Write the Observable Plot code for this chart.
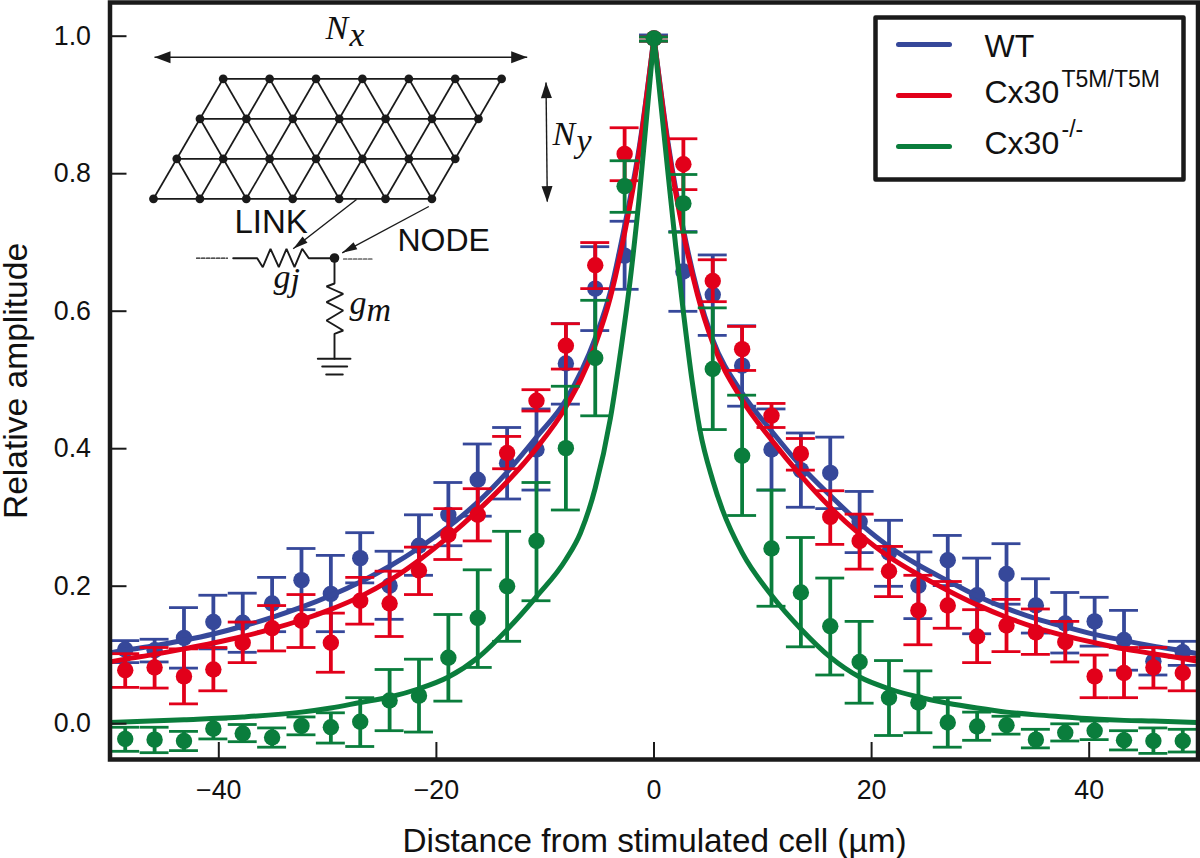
<!DOCTYPE html>
<html>
<head>
<meta charset="utf-8">
<style>html,body{margin:0;padding:0;background:#fff}svg{display:block}</style>
<script src="https://cdn.jsdelivr.net/npm/d3@7"></script>
<script src="https://cdn.jsdelivr.net/npm/@observablehq/plot@0.6"></script>
</head>
<body>
<div id="chart"></div>
<script>
const seriesNames = ["WT", "Cx30T5M/T5M", "Cx30-/-"];
const colors = ["#36489a", "#e2001a", "#0a7d3c"];
const xTicks = [-40, -20, 0, 20, 40];
const yTicks = [0, 0.2, 0.4, 0.6, 0.8, 1];
const distance = [-48.6,-45.9,-43.2,-40.5,-37.8,-35.1,-32.4,-29.7,-27,-24.3,-21.6,-18.9,-16.2,-13.5,-10.8,-8.1,-5.4,-2.7,0,2.7,5.4,8.1,10.8,13.5,16.2,18.9,21.6,24.3,27,29.7,32.4,35.1,37.8,40.5,43.2,45.9,48.6];

const wtY  = [.109,.108,.126,.149,.148,.176,.210,.190,.242,.202,.260,.305,.356,.380,.400,.525,.634,.682,.998,.659,.625,.522,.400,.370,.366,.295,.250,.202,.239,.188,.219,.173,.147,.150,.123,.092,.105];
const wtHi = [.122,.124,.170,.188,.191,.214,.256,.246,.279,.252,.305,.352,.408,.432,.459,.583,.695,.732,1.003,.717,.683,.580,.459,.424,.418,.339,.297,.251,.275,.242,.263,.212,.192,.185,.166,.112,.121];
const wtLo = [.090,.091,.082,.110,.105,.135,.167,.135,.206,.153,.217,.260,.303,.328,.341,.466,.573,.633,.994,.601,.566,.463,.341,.316,.314,.250,.201,.154,.202,.132,.175,.133,.104,.114,.079,.072,.086];

const t5mY  = [.079,.083,.070,.080,.119,.140,.151,.119,.180,.176,.224,.276,.305,.395,.471,.551,.668,.830,.998,.815,.645,.546,.449,.394,.302,.267,.223,.166,.173,.128,.144,.134,.120,.070,.075,.083,.075];
const t5mHi = [.103,.112,.110,.112,.149,.173,.189,.162,.214,.223,.258,.314,.343,.419,.487,.583,.701,.868,1.0,.852,.676,.579,.467,.416,.340,.306,.259,.217,.208,.167,.182,.168,.150,.101,.112,.112,.098];
const t5mLo = [.054,.053,.030,.049,.090,.107,.112,.076,.146,.128,.189,.240,.267,.372,.456,.517,.634,.791,.994,.778,.615,.515,.432,.370,.262,.226,.186,.116,.140,.090,.106,.102,.091,.039,.039,.053,.049];

const koY  = [-.021,-.022,-.024,-.006,-.013,-.019,-.002,-.004,.004,.035,.042,.097,.155,.201,.267,.402,.533,.783,.998,.758,.517,.391,.256,.192,.143,.091,.039,.032,.003,-.003,-.001,-.022,-.012,-.009,-.023,-.024,-.024];
const koHi = [-.004,-.004,-.010,.008,0,-.005,.011,.017,.039,.080,.095,.160,.225,.281,.352,.492,.617,.820,1.0,.800,.606,.479,.341,.272,.213,.150,.093,.078,.039,.018,.012,-.007,.001,.005,-.009,-.005,-.007];
const koLo = [-.039,-.041,-.038,-.021,-.025,-.033,-.015,-.027,-.032,-.009,-.011,.034,.083,.121,.180,.312,.449,.745,.994,.716,.429,.304,.172,.113,.072,.031,-.016,-.012,-.033,-.023,-.014,-.034,-.024,-.022,-.037,-.042,-.040];

// fitted curves, one branch per side of the peak
const wtLeftX  = [-50,-48.6,-45.9,-43.2,-40.5,-37.8,-35.1,-32.4,-29.7,-27,-24.3,-21.6,-18.9,-16.2,-13.5,-10.8,-8.1,-5.4,-4,-2.7,-1.35,0];
const wtLeftY  = [.104,.108,.1145,.1225,.1317,.1429,.1558,.1706,.1877,.2074,.2302,.2567,.2875,.3234,.3671,.418,.472,.562,.63,.725,.84,1];
const t5mLeftX = wtLeftX;
const t5mLeftY = [.091,.095,.102,.110,.1185,.128,.139,.152,.1675,.186,.2095,.239,.273,.311,.353,.402,.462,.552,.622,.715,.835,1];
const koLeftX  = [-50,-43.2,-37.8,-32.4,-29.7,-27,-24.3,-21.6,-18.9,-16.2,-13.5,-10.8,-8.1,-6.75,-5.4,-4,-3,-2.3,-1.35,0];
const koLeftY  = [.003,.007,.011,.018,.024,.032,.040,.052,.069,.097,.138,.186,.240,.279,.344,.446,.55,.632,.768,1];

const wtRightX  = [0,1.35,2.7,4,5.4,8.1,10.8,13.5,16.2,18.9,21.6,24.3,27,29.7,32.4,35.1,37.8,40.5,43.2,45.9,48.6,50];
const wtRightY  = [1,.84,.72,.63,.56,.482,.427,.376,.333,.293,.259,.232,.209,.187,.169,.154,.142,.131,.122,.114,.107,.103];
const t5mRightX = wtRightX;
const t5mRightY = [1,.835,.715,.625,.555,.472,.414,.362,.316,.277,.244,.218,.195,.174,.156,.141,.129,.119,.110,.103,.096,.092];
const koRightX  = [0,1.3,2,2.7,3.5,4.2,5.4,6.3,8.1,10.8,13.5,16.2,18.9,21.6,24.3,27,29.7,32.4,35.1,37.8,40.5,43.2,45.9,50];
const koRightY  = [1,.80,.695,.60,.50,.43,.355,.312,.25,.188,.139,.098,.069,.052,.040,.031,.024,.018,.014,.011,.008,.006,.005,.003];

const xLabel = "Distance from stimulated cell (µm)";
const yLabel = "Relative amplitude";

// inset and legend are drawn in the reference's picture space, mapped into the data domain
const X = px => (px - 653.5) / 10.88;
const Y = py => (724 - py) / 687.5;
const P = ([a, b]) => ({x: X(a), y: Y(b)});
const ink = "#1a1a1a";
const sans = "Liberation Sans, Arial, sans-serif";
const serif = "Liberation Serif, Times New Roman, serif";

// lattice
const rowY = [78.3, 118.3, 158.3, 198.3];
const rowStart = [222.7, 199.5, 176.3, 153];
const colStep = 46.4;
const cols = 7;
const nodes = [], edges = [];
const node = (r, c) => [rowStart[r] + c * colStep, rowY[r]];
rowY.forEach((_, r) => {
  for (let c = 0; c < cols; c++) {
    nodes.push(P(node(r, c)));
    if (c < cols - 1) edges.push([node(r, c), node(r, c + 1)]);
    if (r < rowY.length - 1) {
      edges.push([node(r, c), node(r + 1, c)]);
      if (c < cols - 1) edges.push([node(r, c), node(r + 1, c + 1)]);
    }
  }
});
const edgeData = edges.map(([a, b]) => ({x1: X(a[0]), y1: Y(a[1]), x2: X(b[0]), y2: Y(b[1])}));

// arrows: [from, to, headLength, headHalfWidth]
const arrows = [
  [[175, 56.7], [154, 56.7], 16, 6],
  [[505, 56.7], [526.7, 56.7], 16, 6],
  [[546, 100], [545.5, 81.7], 16, 5.5],
  [[546.5, 185], [546.8, 201.7], 16, 5.5],
  [[356, 199], [292.7, 248.3], 15, 4],
  [[428.3, 206], [341.7, 252.3], 15, 4]
];
const arrowShafts = [
  [[154, 56.7], [526.7, 56.7]],
  [[545.5, 82], [546.8, 201]],
  [[356, 199], [292.7, 248.3]],
  [[428.3, 206], [341.7, 252.3]]
];
const heads = arrows.flatMap(([from, to, len, hw], i) => {
  const dx = to[0] - from[0], dy = to[1] - from[1], d = Math.hypot(dx, dy);
  const ux = dx / d, uy = dy / d;
  const bx = to[0] - ux * len, by = to[1] - uy * len;
  return [to, [bx - uy * hw, by + ux * hw], [bx + uy * hw, by - ux * hw], to].map(p => ({...P(p), id: i}));
});

// circuit
const wireSolid = [
  [[232.7,257.7],[256.7,257.7],[262.3,266.7],[270,248.3],[278.3,266.7],[286,248.3],[294,266.7],[301.7,248.3],[308.3,257.7],[334,257.7]],
  [[334,257.7],[334,283],[326,286],[342.7,293.3],[326,301.7],[342.7,310],[326,320],[342.7,330],[334,333.3],[334,358.3]],
  [[317.3,358.3],[350,358.3]],
  [[321.7,366],[346.7,366]],
  [[325.7,374],[342.3,374]]
];
const wireDashed = [
  [[196,257.7],[227,257.7]],
  [[343,258.5],[373,258.5]]
];
const toPath = list => list.flatMap((pts, i) => pts.map(p => ({...P(p), id: i})));

// legend box and keys
const legendBox = [[875,17],[1183,17],[1183,179],[875,179],[875,17]];
const legendKeyY = [44, 95, 146];
const legendKeys = legendKeyY.flatMap((y, i) => [[898, y], [949, y]].map(p => ({...P(p), id: i, color: colors[i]})));

const sansLabels = [
  {t: "LINK", x: 234, y: 232, size: 33},
  {t: "NODE", x: 397, y: 250, size: 32},
  {t: "WT", x: 984, y: 56, size: 32},
  {t: "Cx30", x: 984, y: 102, size: 32},
  {t: "T5M/T5M", x: 1061, y: 86, size: 23},
  {t: "Cx30", x: 984, y: 153, size: 32},
  {t: "-/-", x: 1061, y: 136, size: 23}
].map(d => ({...d, ...P([d.x, d.y])}));
const serifLabels = [
  {t: "N", x: 325, y: 38.3}, {t: "x", x: 349, y: 45},
  {t: "N", x: 552, y: 144}, {t: "y", x: 576, y: 151},
  {t: "g", x: 273, y: 287}, {t: "j", x: 290, y: 290},
  {t: "g", x: 349, y: 313}, {t: "m", x: 366, y: 320}
].map(d => ({...d, ...P([d.x, d.y])}));

const capHalf = 1.33;
function seriesMarks(i, ys, his, los, lx, ly, rx, ry) {
  const color = colors[i];
  const rows = distance.map((x, k) => ({x, y: ys[k], hi: his[k], lo: los[k]}));
  const branch = (xs, vs) => xs.map((x, k) => ({x, y: vs[k]}));
  const line = {x: "x", y: "y", stroke: color, strokeWidth: 5, curve: "monotone-x", clip: true};
  return [
    Plot.ruleX(rows, {x: "x", y1: "lo", y2: "hi", stroke: color, strokeWidth: 3.8}),
    Plot.ruleY(rows, {y: "hi", x1: d => d.x - capHalf, x2: d => d.x + capHalf, stroke: color, strokeWidth: 2.8}),
    Plot.ruleY(rows, {y: "lo", x1: d => d.x - capHalf, x2: d => d.x + capHalf, stroke: color, strokeWidth: 2.8}),
    Plot.dot(rows, {x: "x", y: "y", r: 8.2, fill: color}),
    Plot.line(branch(lx, ly), line),
    Plot.line(branch(rx, ry), line)
  ];
}

const chart = Plot.plot({
  width: 1200,
  height: 858,
  marginLeft: 109.5,
  marginRight: 2.5,
  marginTop: 2,
  marginBottom: 99,
  x: {domain: [-50, 50], label: null},
  y: {domain: [Y(759), Y(2)], label: null},
  style: {fontFamily: sans, background: "white", color: "#111"},
  marks: [
    // inset
    Plot.link(edgeData, {x1: "x1", y1: "y1", x2: "x2", y2: "y2", stroke: ink, strokeWidth: 1.7}),
    Plot.dot(nodes, {x: "x", y: "y", r: 4.4, fill: ink}),
    Plot.link(arrowShafts.map(([a, b]) => ({x1: X(a[0]), y1: Y(a[1]), x2: X(b[0]), y2: Y(b[1])})), {x1: "x1", y1: "y1", x2: "x2", y2: "y2", stroke: ink, strokeWidth: 1.4}),
    Plot.line(heads, {x: "x", y: "y", z: "id", fill: ink, stroke: "none"}),
    Plot.line(toPath(wireSolid), {x: "x", y: "y", z: "id", stroke: ink, strokeWidth: 1.9, strokeLinejoin: "miter"}),
    Plot.line(toPath(wireDashed), {x: "x", y: "y", z: "id", stroke: ink, strokeWidth: 1.2, strokeDasharray: "3.5,1.5"}),
    Plot.dot([P([334, 257.5])], {x: "x", y: "y", r: 4.8, fill: ink}),
    // data
    ...seriesMarks(0, wtY, wtHi, wtLo, wtLeftX, wtLeftY, wtRightX, wtRightY),
    ...seriesMarks(1, t5mY, t5mHi, t5mLo, t5mLeftX, t5mLeftY, t5mRightX, t5mRightY),
    ...seriesMarks(2, koY, koHi, koLo, koLeftX, koLeftY, koRightX, koRightY),
    // legend
    Plot.line(legendBox.map(P), {x: "x", y: "y", fill: "white", stroke: ink, strokeWidth: 4.5, strokeLinejoin: "round"}),
    Plot.line(legendKeys, {x: "x", y: "y", z: "id", stroke: "color", strokeWidth: 5}),
    Plot.text(sansLabels, {x: "x", y: "y", text: "t", fontSize: "size", fontFamily: sans, fill: "#111", textAnchor: "start", lineAnchor: "bottom"}),
    Plot.text(serifLabels, {x: "x", y: "y", text: "t", fontSize: 34, fontFamily: serif, fontStyle: "italic", fill: "#111", textAnchor: "start", lineAnchor: "bottom"}),
    // axes
    Plot.axisX(xTicks, {anchor: "bottom", tickSize: -17, tickPadding: 37, strokeWidth: 2, stroke: ink, fontSize: 26.8, fontFamily: sans, fill: "#111", label: null}),
    Plot.axisY(yTicks, {anchor: "left", tickSize: -17, tickPadding: 36, strokeWidth: 2, stroke: ink, fontSize: 26.8, fontFamily: sans, fill: "#111", tickFormat: d => d.toFixed(1), dy: -0.8, label: null}),
    Plot.text([xLabel], {frameAnchor: "bottom", textAnchor: "middle", lineAnchor: "bottom", dx: 0.5, dy: 92.5, fontSize: 33.3, fontFamily: sans, fill: "#111"}),
    Plot.text([yLabel], {frameAnchor: "left", textAnchor: "middle", lineAnchor: "bottom", dx: -83.5, rotate: -90, fontSize: 33.6, fontFamily: sans, fill: "#111"}),
    Plot.frame({stroke: ink, strokeWidth: 4.5})
  ]
});
document.getElementById("chart").appendChild(chart);
</script>
</body>
</html>
